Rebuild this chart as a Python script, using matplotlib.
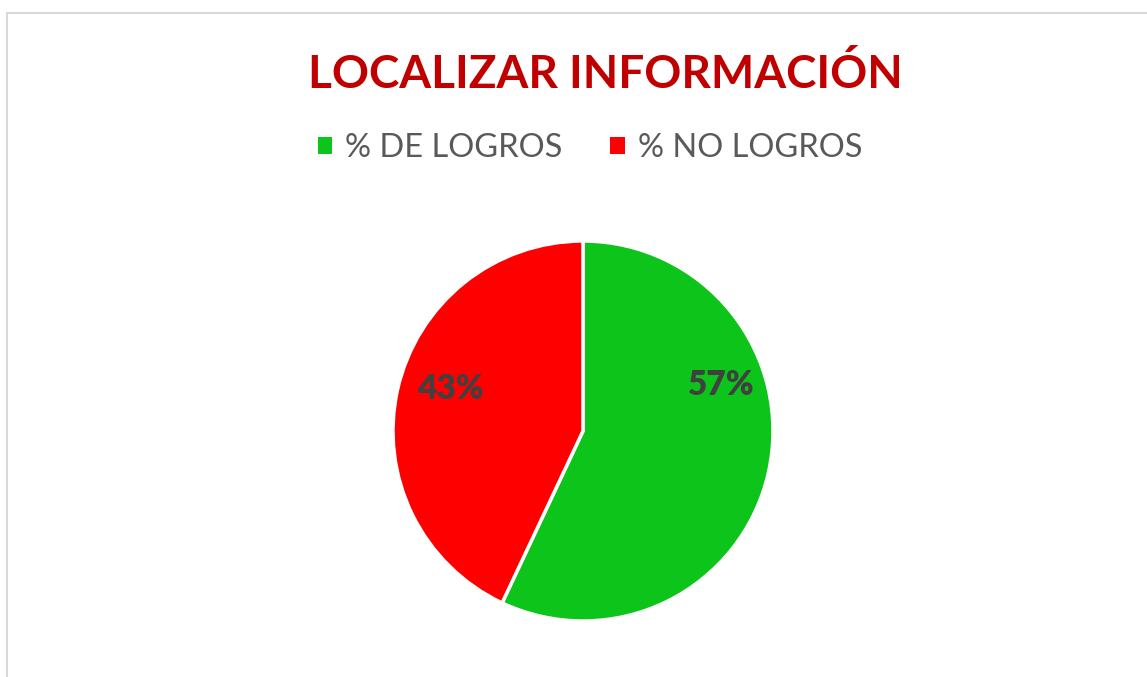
import matplotlib
matplotlib.use("Agg")
import matplotlib.pyplot as plt
from matplotlib.patches import Rectangle, Patch

title = "LOCALIZAR INFORMACIÓN"
categories = ["% DE LOGROS", "% NO LOGROS"]
values = [57, 43]
colors = ["#0DC41A", "#FF0000"]
label_pos = [(0.73, 0.24), (-0.70, 0.22)]

W, H = 1147, 677
fig = plt.figure(figsize=(W / 100, H / 100), dpi=100)
fig.patch.set_facecolor("white")
plt.rcParams['font.family'] = ['Lato', 'DejaVu Sans']

# chart border
fig.add_artist(Rectangle((7.5 / W, -0.01), 1.2, (H - 12.5) / H + 0.01,
                         transform=fig.transFigure, fill=False,
                         edgecolor="#D9D9D9", linewidth=1.5))

cx, cy, r = 583, 431, 190
ax = fig.add_axes([(cx - r) / W, (H - cy - r) / H, 2 * r / W, 2 * r / H])
wedges, _ = ax.pie(values, colors=colors, startangle=90, counterclock=False,
                   radius=1, wedgeprops=dict(edgecolor="white", linewidth=2.5))
ax.set_xlim(-1, 1)
ax.set_ylim(-1, 1)
ax.set_aspect("equal")
ax.axis("off")

for v, (x, y) in zip(values, label_pos):
    ax.text(x, y, f"{v}%", ha="center", va="center", fontsize=24,
            fontweight="heavy", color="#404040")

fig.text(605 / W, 1 - 74 / H, title, ha="center", va="center",
         fontsize=33, fontweight="bold", color="#C00000")

handles = [Patch(facecolor=c, edgecolor="none") for c in colors]
fig.legend(handles, categories, loc="center", bbox_to_anchor=(590 / W, 1 - 148 / H),
           ncol=2, frameon=False, fontsize=23.5, labelcolor="#595959",
           handlelength=0.45, handleheight=0.45, handletextpad=0.4, columnspacing=1.45)

fig.savefig("out.png", dpi=100, facecolor="white")
